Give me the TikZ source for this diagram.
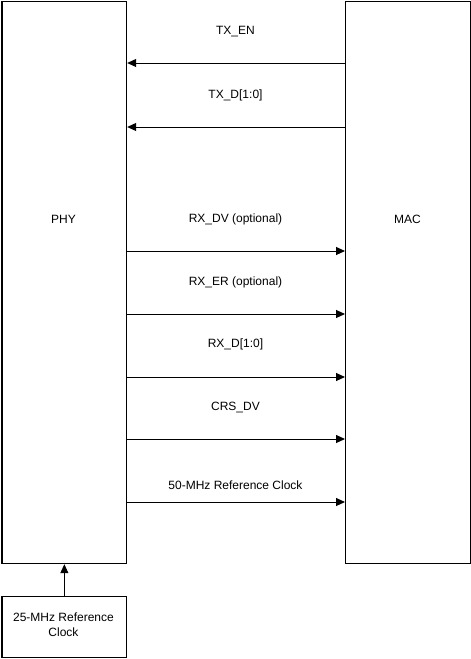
\documentclass[tikz,border=0pt]{standalone}
\usepackage{fontspec}
\setmainfont{Liberation Sans}
\usetikzlibrary{arrows.meta}
\begin{document}
\begin{tikzpicture}[x=1pt,y=-1pt,
  blk/.style={draw,line width=1.2pt,inner sep=0pt,anchor=north west},
  sig/.style={line width=1pt,-{Triangle[length=9pt,width=8pt]}},
  lbl/.style={font=\fontsize{12}{15}\selectfont,inner sep=0pt},
  every node/.style={font=\fontsize{12}{15}\selectfont}]
\useasboundingbox (0,0) rectangle (471,659);
\fill[white] (0,0) rectangle (471,659);
\node[blk,minimum width=124.5pt,minimum height=562pt] (phybox) at (1.5,1) {};
\node[lbl] (phy) at (63.5,219) {PHY};
\node[blk,minimum width=125pt,minimum height=562pt] (macbox) at (345,1) {};
\node[lbl] (mac) at (407.5,219) {MAC};
\node[blk,minimum width=124.5pt,minimum height=61pt] (clkbox) at (1.5,596) {};
\node[lbl,align=center] (clk) at (63.5,625) {25-MHz Reference\\Clock};
\foreach \n/\y in {a/63,b/127,c/251,d/314,e/377,f/439,g/502}{
  \coordinate (p\n) at (phybox.east |- 0,\y);
  \coordinate (m\n) at (macbox.west |- 0,\y);
}
\draw[sig] (ma) -- (pa);
\draw[sig] (mb) -- (pb);
\draw[sig] (pc) -- (mc);
\draw[sig] (pd) -- (md);
\draw[sig] (pe) -- (me);
\draw[sig] (pf) -- (mf);
\draw[sig] (pg) -- (mg);
\draw[sig] (clkbox.north) -- (phybox.south);
\node[lbl] (l1) at (235.5,32) {TX\_EN};
\node[lbl] (l2) at (235.5,95) {TX\_D[1:0]};
\node[lbl] (l3) at (235.5,219) {RX\_DV (optional)};
\node[lbl] (l4) at (235.5,282) {RX\_ER (optional)};
\node[lbl] (l5) at (235.5,344) {RX\_D[1:0]};
\node[lbl] (l6) at (235.5,407) {CRS\_DV};
\node[lbl] (l7) at (235.5,485) {50-MHz Reference Clock};
\end{tikzpicture}
\end{document}
